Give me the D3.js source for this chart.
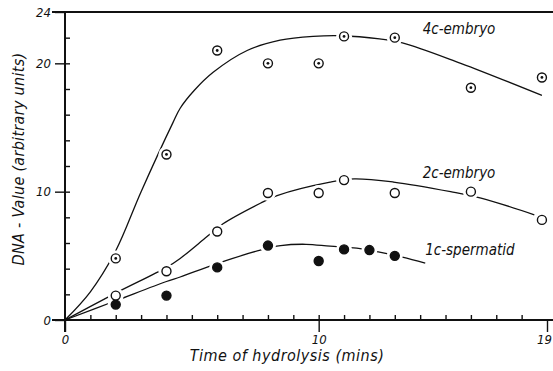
<!DOCTYPE html>
<html>
<head>
<meta charset="utf-8">
<script src="https://cdn.jsdelivr.net/npm/d3@7"></script>
<style>
  body { margin: 0; background: #fff; }
  text { font-family: "DejaVu Sans Condensed", "DejaVu Sans", sans-serif; font-style: italic; fill: #111; }
</style>
</head>
<body>
<div id="chart"></div>
<script>
// measured points (time in mins, DNA value)
const x4c = [2, 4, 6, 8, 10, 11, 13, 16, 18.8];
const y4c = [4.8, 12.9, 21, 20, 20, 22.1, 22, 18.1, 18.9];
const x2c = [2, 4, 6, 8, 10, 11, 13, 16, 18.8];
const y2c = [1.9, 3.8, 6.9, 9.9, 9.9, 10.9, 9.9, 10, 7.8];
const x1c = [2, 4, 6, 8, 10, 11, 12, 13];
const y1c = [1.2, 1.9, 4.1, 5.8, 4.6, 5.5, 5.45, 5.0];

// fitted curves as drawn in the figure
const cx4c = [0, 1, 2, 3, 4.26, 4.54, 5.1, 5.84, 7.18, 8.48, 9.78, 10.9, 12.4, 13.3, 15.6, 18.8];
const cy4c = [0, 2.2, 5.4, 10, 15.4, 16.5, 17.9, 19.3, 21, 21.8, 22.1, 22.15, 21.9, 21.6, 20, 17.5];
const cx2c = [0, 2, 4, 4.54, 5.6, 6.23, 7.7, 8.36, 10.45, 11.4, 12.95, 15.2, 16.4, 18.5];
const cy2c = [0, 2.1, 4.1, 4.8, 6.5, 7.5, 9.1, 9.7, 10.75, 11, 10.75, 10, 9.5, 8.2];
const cx1c = [0, 2, 4, 4.54, 6, 7.7, 8.5, 9.5, 10.45, 11.5, 12.35, 13.3, 14.2];
const cy1c = [0, 1.5, 3.0, 3.35, 4.4, 5.45, 5.8, 5.9, 5.75, 5.6, 5.3, 4.9, 4.44];

const yMajor = [0, 10, 20, 24];
const xMajor = [0, 10, 19];
const series = [
  {name: "4c-embryo", xs: x4c, ys: y4c, cxs: cx4c, cys: cy4c, kind: "dot", lx: 14.1, ly: 22.3},
  {name: "2c-embryo", xs: x2c, ys: y2c, cxs: cx2c, cys: cy2c, kind: "open", lx: 14.1, ly: 11.1},
  {name: "1c-spermatid", xs: x1c, ys: y1c, cxs: cx1c, cys: cy1c, kind: "fill", lx: 14.2, ly: 5.1}
];

const width = 553, height = 371;
const x = d3.scaleLinear().domain([0, 19]).range([65, 547]);
const y = d3.scaleLinear().domain([0, 24]).range([320, 12]);

const svg = d3.select("#chart").append("svg")
  .attr("width", width).attr("height", height);

// frame lines
svg.append("line").attr("x1", x(0) - 13).attr("x2", width).attr("y1", y(24)).attr("y2", y(24))
  .attr("stroke", "#111").attr("stroke-width", 1.8);
svg.append("line").attr("x1", x(0) - 13).attr("x2", width).attr("y1", y(0)).attr("y2", y(0))
  .attr("stroke", "#111").attr("stroke-width", 2);
svg.append("line").attr("x1", x(0)).attr("x2", x(0)).attr("y1", y(24)).attr("y2", y(0) + 12)
  .attr("stroke", "#111").attr("stroke-width", 2);

const styleAxis = g => {
  g.select(".domain").remove();
  g.selectAll(".tick line").attr("stroke", "#111").attr("stroke-width", 1.4);
  g.selectAll(".tick text").attr("font-size", 13).attr("fill", "#111");
};

svg.append("g").attr("transform", `translate(${x(0)},0)`)
  .call(d3.axisLeft(y).tickValues(yMajor).tickSize(10).tickPadding(4))
  .call(styleAxis);
svg.append("g").attr("transform", `translate(${x(0)},0)`)
  .call(d3.axisRight(y).tickValues(d3.range(2, 24, 2)).tickSize(5).tickFormat(""))
  .call(styleAxis);
svg.append("g").attr("transform", `translate(0,${y(0)})`)
  .call(d3.axisBottom(x).tickValues(xMajor).tickSize(12).tickPadding(3))
  .call(styleAxis)
  .call(g => g.selectAll(".tick text").filter(d => d === 19).attr("dx", -3));
svg.append("g").attr("transform", `translate(0,${y(0)})`)
  .call(d3.axisTop(x).tickValues(d3.range(1, 19)).tickSize(5).tickFormat(""))
  .call(styleAxis);

// curves
const line = d3.line().x(d => x(d[0])).y(d => y(d[1])).curve(d3.curveCatmullRom.alpha(0.5));
series.forEach(s => {
  svg.append("path")
    .datum(s.cxs.map((v, i) => [v, s.cys[i]]))
    .attr("d", line)
    .attr("fill", "none").attr("stroke", "#111").attr("stroke-width", 1.3);
});

// white halos so the curves break around the markers
series.forEach(s => {
  svg.append("g").selectAll("circle")
    .data(s.xs.map((v, i) => [v, s.ys[i]]))
    .join("circle")
    .attr("cx", d => x(d[0])).attr("cy", d => y(d[1]))
    .attr("r", 8).attr("fill", "#fff");
});

// markers
series.forEach(s => {
  const g = svg.append("g");
  const pts = s.xs.map((v, i) => [v, s.ys[i]]);
  g.selectAll("circle.m")
    .data(pts).join("circle").attr("class", "m")
    .attr("cx", d => x(d[0])).attr("cy", d => y(d[1]))
    .attr("r", 4.5)
    .attr("fill", s.kind === "fill" ? "#111" : "#fff")
    .attr("stroke", "#111").attr("stroke-width", 1.4);
  if (s.kind === "dot") {
    g.selectAll("circle.c")
      .data(pts).join("circle").attr("class", "c")
      .attr("cx", d => x(d[0])).attr("cy", d => y(d[1]))
      .attr("r", 1.4).attr("fill", "#111");
  }
  svg.append("text")
    .attr("x", x(s.lx)).attr("y", y(s.ly))
    .attr("font-size", 15)
    .text(s.name);
});

// axis titles
svg.append("text")
  .attr("x", 287).attr("y", 361)
  .attr("text-anchor", "middle").attr("font-size", 16).attr("letter-spacing", 0.5)
  .text("Time of hydrolysis (mins)");
svg.append("text")
  .attr("transform", "translate(24,159) rotate(-90)")
  .attr("text-anchor", "middle").attr("font-size", 16).attr("letter-spacing", 0.3)
  .text("DNA - Value (arbitrary units)");
</script>
</body>
</html>
